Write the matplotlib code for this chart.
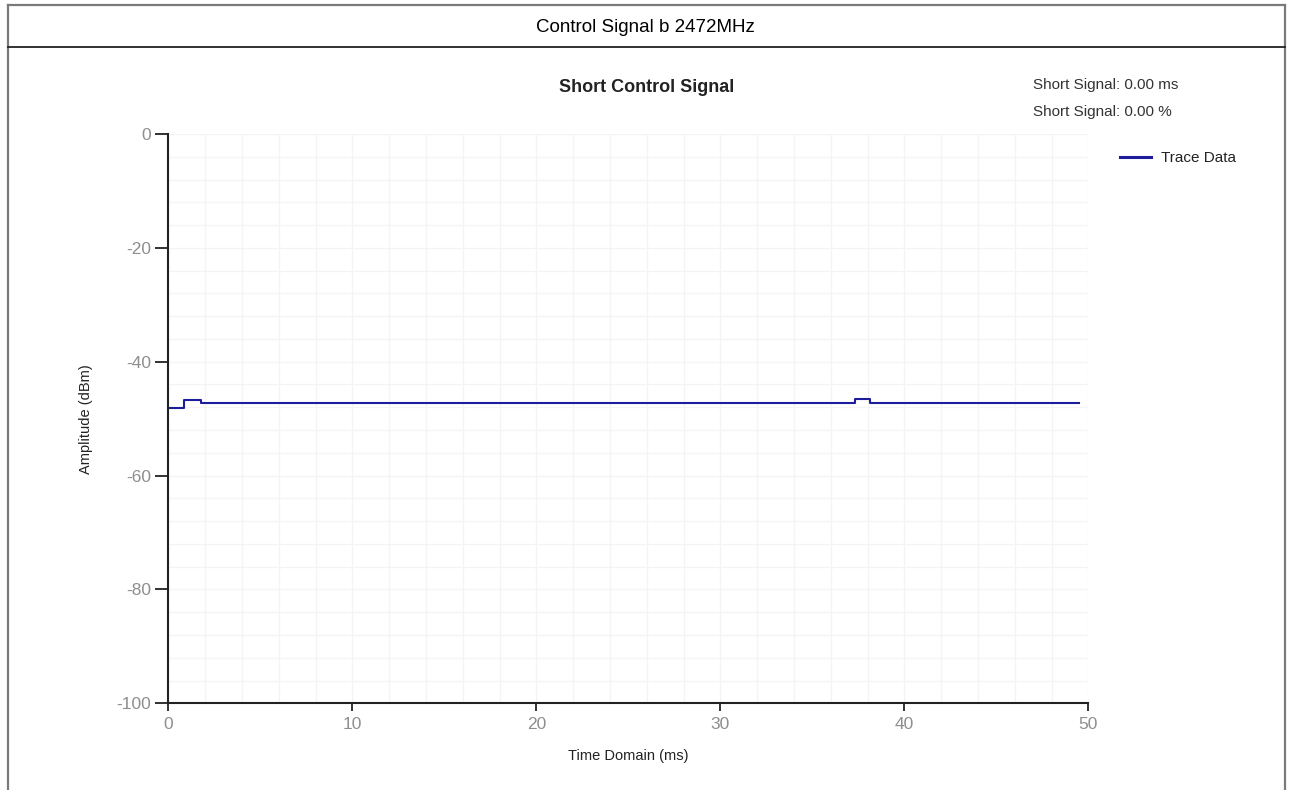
#Short control signal trace, 2472 MHz, channel b
#Step trace of amplitude against time, laid out inside a report table cell

import matplotlib
matplotlib.use('Agg')
import matplotlib.pyplot as plt
import numpy as np
from matplotlib.lines import Line2D

plt.rcParams['font.family'] = ['Liberation Sans', 'DejaVu Sans']
plt.rcParams['axes.unicode_minus'] = False

#Step points of the trace (ms, dBm), each level holds until the next time
time_ms = [0, 0.87, 1.78, 37.3, 38.15, 49.5]
amplitude_dbm = [-48.05, -46.7, -47.28, -46.6, -47.28, -47.28]

caption = 'Control Signal b 2472MHz'
chart_title = 'Short Control Signal'
info_lines = ['Short Signal: 0.00 ms', 'Short Signal: 0.00 %']
series_name = 'Trace Data'
x_ticks = [0, 10, 20, 30, 40, 50]
y_ticks = [-100, -80, -60, -40, -20, 0]

W, H = 1289, 790
fig = plt.figure(figsize=(W / 100, H / 100), dpi=100)

def fx(px):
    return px / W

def fy(py):
    return 1 - py / H

#Table frame around the chart
frame = [((8, 8), (5, H)), ((1285, 1285), (5, H)), ((8, 1285), (5, 5))]
for xs, ys in frame:
    fig.add_artist(Line2D([fx(x) for x in xs], [fy(y) for y in ys], color='#7a7a7a', lw=1.6))
fig.add_artist(Line2D([fx(8), fx(1285)], [fy(47), fy(47)], color='#222222', lw=1.3))
fig.text(fx(645), fy(27), caption, ha='center', va='center', fontsize=13.5, color='black')

#Plot area
ax = fig.add_axes([fx(168.3), fy(703.3), fx(1088.3 - 168.3), (703.3 - 134) / H])
ax.plot(time_ms, amplitude_dbm, drawstyle='steps-post', color='#1c1c9c', lw=1.5)

ax.set_xlim(0, 50)
ax.set_ylim(-100, 0)
ax.set_xticks(x_ticks)
ax.set_yticks(y_ticks)
ax.set_xticks(np.arange(0, 51, 2), minor=True)
ax.set_yticks(np.arange(-100, 1, 4), minor=True)
ax.grid(which='both', color='#f4f4f4', lw=0.9)
ax.set_axisbelow(True)

for s in ['top', 'right']:
    ax.spines[s].set_visible(False)
for s in ['left', 'bottom']:
    ax.spines[s].set_linewidth(1.5)
    ax.spines[s].set_color('#222222')

ax.tick_params(axis='both', which='minor', length=0)
ax.tick_params(axis='y', which='major', length=9.5, width=1.3, pad=3, labelsize=12.5, labelcolor='#8e8e8e', color='#222222')
ax.tick_params(axis='x', which='major', length=6, width=1.3, pad=4, labelsize=12.5, labelcolor='#8e8e8e', color='#222222')

ax.set_xlabel('Time Domain (ms)', fontsize=10.5, color='#222222', labelpad=12)
ax.set_ylabel('Amplitude (dBm)', fontsize=10.5, color='#222222', labelpad=17)

fig.text(fx(647), fy(88), chart_title, ha='center', va='center', fontsize=13, fontweight='bold', color='#222222')
for i, line in enumerate(info_lines):
    fig.text(fx(1033), fy(85 + 27 * i), line, ha='left', va='center', fontsize=11, color='#333333')

handle = Line2D([], [], color='#1c1c9c', lw=2.2)
fig.legend([handle], [series_name], loc='center left', bbox_to_anchor=(fx(1120), fy(158)),
           frameon=False, fontsize=11, handlelength=2.0, handletextpad=0.7,
           borderpad=0, borderaxespad=0, labelcolor='#222222')

fig.savefig('out.png', dpi=100)
